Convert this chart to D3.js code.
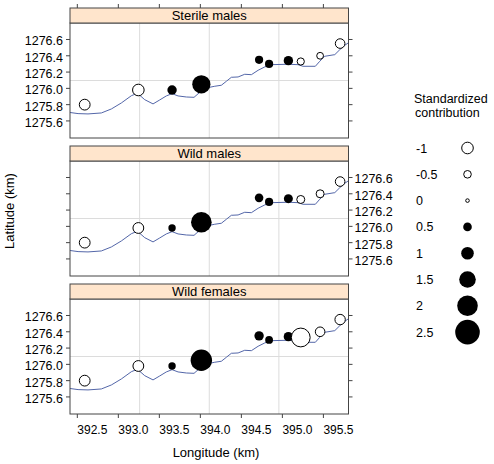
<!DOCTYPE html>
<html><head><meta charset="utf-8">
<script src="https://cdn.jsdelivr.net/npm/d3@7"></script>
<style>
html,body{margin:0;padding:0;background:#fff;}
text{font-family:"Liberation Sans",Arial,sans-serif;fill:#000;}
</style></head>
<body><svg id="chart" width="494" height="464"></svg>
<script>
// ---- data ----
const panelNames = ["Sterile males", "Wild males", "Wild females"];
const stationLon = [392.59, 393.244, 393.655, 394.012, 394.716, 394.838, 395.073, 395.224, 395.46, 395.704];
const stationLat = [1275.80, 1275.98, 1275.98, 1276.05, 1276.35, 1276.30, 1276.34, 1276.33, 1276.40, 1276.55];
const contribSterile = [-0.9, -1.0, 0.6, 1.7, 0.45, 0.45, 0.6, -0.45, -0.4, -0.75];
const contribWildMales = [-0.9, -0.9, 0.35, 2.0, 0.5, 0.45, 0.55, -0.55, -0.55, -0.75];
const contribWildFemales = [-0.9, -0.9, 0.35, 2.1, 0.6, 0.4, 0.6, -1.9, -0.75, -0.85];
const coastLon = [392.387, 392.509, 392.630, 392.793, 392.915, 393.037, 393.159, 393.220, 393.261, 393.322, 393.423, 393.505, 393.585, 393.655, 393.728, 393.829, 393.923, 393.993, 394.073, 394.176, 394.256, 394.317, 394.378, 394.460, 394.541, 394.622, 394.704, 394.785, 394.866, 395.070, 395.191, 395.252, 395.402, 395.456, 395.517, 395.639, 395.700, 395.761, 395.841];
const coastLat = [1275.707, 1275.690, 1275.686, 1275.698, 1275.747, 1275.821, 1275.910, 1275.935, 1275.915, 1275.861, 1275.809, 1275.858, 1275.907, 1275.935, 1275.907, 1275.894, 1275.890, 1275.952, 1276.005, 1276.026, 1276.038, 1276.087, 1276.136, 1276.140, 1276.173, 1276.168, 1276.222, 1276.263, 1276.291, 1276.296, 1276.291, 1276.271, 1276.271, 1276.333, 1276.394, 1276.414, 1276.475, 1276.529, 1276.585];
const xTicks = [392.5, 393.0, 393.5, 394.0, 394.5, 395.0, 395.5];
const yTicks = [1275.6, 1275.8, 1276.0, 1276.2, 1276.4, 1276.6];
const legendValues = [-1, -0.5, 0, 0.5, 1, 1.5, 2, 2.5];
const panelContribs = [contribSterile, contribWildMales, contribWildFemales];

// ---- layout ----
const svg = d3.select("#chart");
const L = 70, R = 348.5;
const stripH = 15, plotH = 115;
const stripTops = [8, 146, 284];
const frameCol = "#444";
const x = d3.scaleLinear().domain([392.4107, 395.8061]).range([L, R]);
const rScale = d3.scaleLinear().domain([0, 2.5]).range([2.3, 12.3]);
const fmt = d3.format(".1f");

svg.append("defs").append("clipPath").attr("id", "clipx")
  .append("rect").attr("x", L).attr("y", 0).attr("width", R - L).attr("height", 464);

panelNames.forEach((name, i) => {
  const top = stripTops[i] + stripH, bot = top + plotH;
  const y = d3.scaleLinear().domain([1275.3905, 1276.8025]).range([bot, top]);
  const g = svg.append("g");
  const cp = "clip" + i;
  svg.select("defs").append("clipPath").attr("id", cp)
    .append("rect").attr("x", L).attr("y", top).attr("width", R - L).attr("height", plotH);

  // grid: 3 vertical, 1 horizontal equally spaced
  const gw = (R - L) / 4;
  [1, 2, 3].forEach(k => g.append("line").attr("x1", L + k * gw).attr("x2", L + k * gw)
    .attr("y1", top).attr("y2", bot).attr("stroke", "#dcdcdc").attr("stroke-width", 1));
  g.append("line").attr("x1", L).attr("x2", R).attr("y1", (top + bot) / 2).attr("y2", (top + bot) / 2)
    .attr("stroke", "#dcdcdc").attr("stroke-width", 1);

  // coastline
  const coast = coastLon.map((lon, j) => [lon, coastLat[j]]);
  g.append("path").datum(coast).attr("clip-path", `url(#${cp})`)
    .attr("d", d3.line().x(d => x(d[0])).y(d => y(d[1])))
    .attr("fill", "none").attr("stroke", "#5366a8").attr("stroke-width", 1);

  // bubbles
  const pts = stationLon.map((lon, j) => ({lon, lat: stationLat[j], v: panelContribs[i][j]}));
  g.selectAll("circle.pt").data(pts).join("circle").attr("class", "pt")
    .attr("cx", d => x(d.lon)).attr("cy", d => y(d.lat))
    .attr("r", d => d.v > 0 ? rScale(Math.abs(d.v)) : rScale(Math.abs(d.v)) - 0.5)
    .attr("fill", d => d.v > 0 ? "#000" : "#fff")
    .attr("stroke", "#000").attr("stroke-width", d => d.v > 0 ? 0 : 1);

  // frame
  g.append("rect").attr("x", L).attr("y", top).attr("width", R - L).attr("height", plotH)
    .attr("fill", "none").attr("stroke", frameCol).attr("stroke-width", 1);

  // strip
  svg.append("rect").attr("x", L).attr("y", stripTops[i]).attr("width", R - L).attr("height", stripH)
    .attr("fill", "#ffe5cc").attr("stroke", frameCol).attr("stroke-width", 1);
  svg.append("text").attr("x", (L + R) / 2).attr("y", stripTops[i] + 12)
    .attr("text-anchor", "middle").attr("font-size", 13).text(name);

  // y axes: ticks both sides, labels alternate
  const leftLabels = (i !== 1);
  const ay = svg.append("g");
  yTicks.forEach(t => {
    const yy = y(t);
    ay.append("line").attr("x1", L - 4).attr("x2", L).attr("y1", yy).attr("y2", yy).attr("stroke", frameCol);
    ay.append("line").attr("x1", R).attr("x2", R + 4).attr("y1", yy).attr("y2", yy).attr("stroke", frameCol);
    ay.append("text").attr("x", leftLabels ? L - 7 : R + 6).attr("y", yy + 6)
      .attr("text-anchor", leftLabels ? "end" : "start").attr("font-size", 12.5).text(fmt(t));
  });
});

// top ticks (above first strip)
xTicks.forEach(t => {
  svg.append("line").attr("x1", x(t)).attr("x2", x(t)).attr("y1", 4).attr("y2", stripTops[0]).attr("stroke", frameCol);
});
// bottom axis
const bottom = stripTops[2] + stripH + plotH;
xTicks.forEach(t => {
  svg.append("line").attr("x1", x(t)).attr("x2", x(t)).attr("y1", bottom).attr("y2", bottom + 4).attr("stroke", frameCol);
  svg.append("text").attr("x", x(t)).attr("y", bottom + 20).attr("text-anchor", "start")
    .attr("font-size", 12).text(fmt(t));
});

// axis titles
svg.append("text").attr("x", 216).attr("y", 457).attr("text-anchor", "middle").attr("font-size", 13).text("Longitude (km)");
svg.append("text").attr("transform", "translate(14,211) rotate(-90)").attr("text-anchor", "middle")
  .attr("font-size", 13).text("Latitude (km)");

// legend
svg.append("text").attr("x", 414).attr("y", 102.5).attr("font-size", 12.5).text("Standardized");
svg.append("text").attr("x", 415).attr("y", 116.5).attr("font-size", 12.5).text("contribution");
legendValues.forEach((v, k) => {
  const yy = 148 + k * 26.3;
  svg.append("text").attr("x", 416).attr("y", yy + 4.5).attr("font-size", 12.5).text(String(v));
  svg.append("circle").attr("cx", 467.5).attr("cy", yy)
    .attr("r", v > 0 ? rScale(Math.abs(v)) : rScale(Math.abs(v)) - 0.5)
    .attr("fill", v > 0 ? "#000" : "#fff").attr("stroke", "#000").attr("stroke-width", v > 0 ? 0 : 1);
});
</script></body></html>
